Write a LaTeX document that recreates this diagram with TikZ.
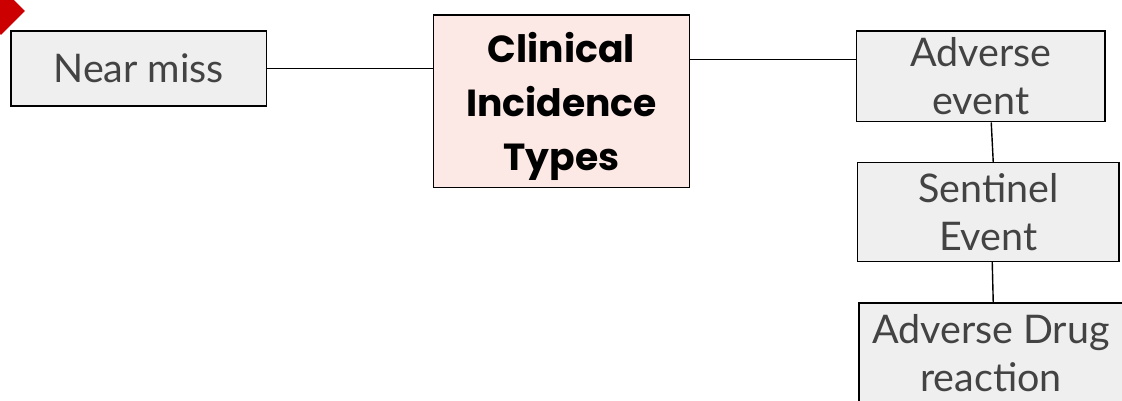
\documentclass[tikz,border=0pt]{standalone}
\usepackage{fontspec}
\setmainfont{Lato}
\newfontfamily\titlefont{Poppins}
\usetikzlibrary{calc}
\usetikzlibrary{shapes}
\definecolor{boxgray}{HTML}{EFEFEF}
\definecolor{textgray}{HTML}{434343}
\definecolor{boxpink}{HTML}{FCE8E4}
\definecolor{markred}{HTML}{CC0000}

\begin{document}
\begin{tikzpicture}[x=0.02cm,y=-0.02cm,
    kind/.style={draw,line width=0.8pt,fill=boxgray,text=textgray,align=center,
      inner sep=0pt,font=\fontsize{22.5}{27.3}\selectfont},
    hub/.style={draw,line width=0.8pt,fill=boxpink,text=black,align=center,
      inner sep=0pt,text depth=0pt,font=\titlefont\bfseries\fontsize{21.5}{31}\selectfont},
    link/.style={line width=0.8pt}]
    \clip (-1,-1) rectangle (1123,400);
    \useasboundingbox (0,0) rectangle (1122,399);
    % red marker in the corner
    \fill[markred] (-24,10) -- (0,-14) -- (24,10) -- (0,34) -- cycle;
    %
    \node[hub,minimum width=257*0.02cm,minimum height=173*0.02cm] (types) at (561.5,100.5)
      {Clinical\\Incidence\\Types};
    \node[kind,minimum width=256*0.02cm,minimum height=75*0.02cm] (near) at (138,67.5)
      {Near miss};
    \node[kind,minimum width=249*0.02cm,minimum height=91*0.02cm] (adverse) at (981.5,75.5)
      {Adverse\\event};
    \node[kind,minimum width=262*0.02cm,minimum height=99*0.02cm] (sentinel) at (989,211.5)
      {Sentinel\\Event};
    \node[kind,minimum width=264*0.02cm,minimum height=100*0.02cm,anchor=north west] (drug) at (859,302)
      {Adverse Drug\\reaction};
    %
    \coordinate (hubout) at ($(types.east)+(0,-42)$);
    \draw[link] (near.east) -- (near.east -| types.west);
    \draw[link] (hubout) -- (hubout -| adverse.west);
    \draw[link] (adverse.south -| 992,0) -- (sentinel.north -| 994,0);
    \draw[link] (sentinel.south -| 993,0) -- (drug.north -| 994,0);
\end{tikzpicture}
\end{document}
